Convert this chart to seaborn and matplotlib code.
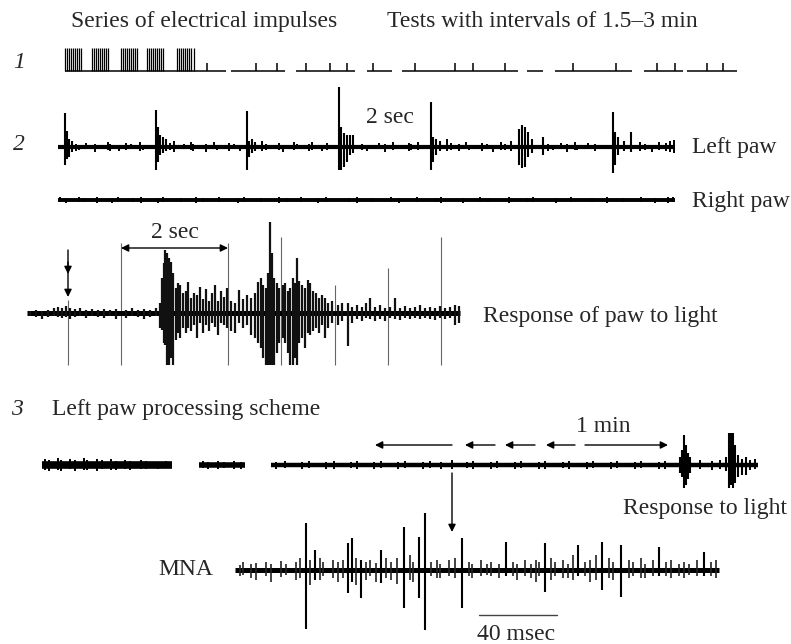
import matplotlib
matplotlib.use("Agg")
import matplotlib.pyplot as plt
import seaborn as sns
import pandas as pd

# ---------------- data ----------------
# row 1: stimulation protocol (segments of the marker line, pulse times)
stim_segments = [(65, 226), (231, 285), (296, 355), (367, 392), (402, 518),
                 (527, 543), (555, 632), (644, 683), (687, 737)]
burst_pulses = [65, 67, 69, 71, 73, 75, 77, 79, 81,
                92, 94, 96, 98, 100, 102, 104, 106, 108,
                121, 123, 125, 127, 129, 131, 133, 135, 137,
                147, 149, 151, 153, 155, 157, 159, 161, 163,
                177, 179, 181, 183, 185, 187, 189, 191, 194]
test_pulses = [207, 256, 277, 306, 330, 347, 373, 415, 455, 473, 505,
               573, 616, 657, 675, 707, 723]

# row 2: left paw record (x, amplitude up, amplitude down)
left_paw_spikes = [
    (65, 34, 18), (67, 16, 12), (69, 8, 10), (72, 6, 5),
    (156, 37, 23), (158, 20, 15), (160, 12, 8), (163, 10, 6), (166, 8, 4),
    (247, 36, 23), (249, 6, 10), (252, 8, 6), (255, 5, 4),
    (339, 60, 23), (341, 20, 23), (344, 14, 20), (347, 12, 15), (350, 12, 8), (353, 12, 6),
    (431, 45, 23), (433, 10, 15), (436, 8, 8), (440, 6, 4),
    (519, 18, 18), (522, 22, 21), (525, 20, 20), (528, 15, 10), (532, 8, 6), (543, 10, 8),
    (613, 35, 26), (615, 15, 18), (618, 10, 8), (624, 6, 4), (631, 15, 5)]
left_paw_ripple = [
    (76, 3, 4), (79, 2, 3), (86, 4, 2), (95, 3, 5), (99, 2, 2), (108, 5, 3), (110, 3, 4),
    (119, 2, 4), (126, 4, 3), (131, 3, 2), (140, 5, 4), (143, 2, 3), (170, 4, 3),
    (174, 6, 5), (184, 3, 2), (191, 5, 3), (193, 3, 4), (206, 3, 5), (214, 5, 2),
    (217, 2, 3), (229, 4, 4), (234, 3, 2), (240, 2, 4), (262, 6, 4), (266, 3, 3),
    (279, 4, 3), (283, 2, 5), (294, 5, 3), (297, 3, 2), (309, 3, 4), (312, 5, 3),
    (322, 2, 4), (327, 4, 3), (362, 3, 3), (367, 2, 4), (379, 4, 2), (385, 3, 5),
    (393, 5, 3), (396, 2, 2), (409, 4, 4), (411, 3, 3), (418, 5, 3), (447, 8, 4),
    (451, 4, 3), (459, 3, 4), (466, 5, 2), (469, 2, 3), (482, 4, 4), (487, 3, 2),
    (493, 2, 5), (501, 5, 3), (505, 3, 3), (511, 6, 4), (548, 3, 4), (553, 2, 3),
    (561, 4, 2), (567, 3, 5), (575, 5, 3), (577, 2, 3), (588, 4, 2), (595, 3, 4),
    (640, 5, 4), (645, 3, 3), (652, 2, 5), (659, 5, 3), (666, 4, 4), (670, 6, 5), (674, 7, 6)]
right_paw_ripple = [
    (60, 3, 2), (66, 2, 3), (79, 3, 2), (84, 2, 2), (97, 3, 3), (112, 2, 3),
    (118, 3, 2), (133, 2, 2), (141, 3, 3), (158, 2, 3), (163, 3, 2), (181, 2, 2),
    (196, 3, 3), (203, 2, 2), (219, 3, 2), (238, 2, 3), (244, 3, 2), (261, 2, 2),
    (279, 3, 3), (287, 2, 2), (301, 3, 2), (318, 2, 3), (326, 3, 2), (349, 2, 2),
    (357, 3, 3), (372, 2, 2), (391, 3, 2), (399, 2, 3), (417, 3, 2), (436, 2, 2),
    (441, 3, 3), (463, 2, 3), (480, 3, 2), (488, 2, 2), (509, 3, 3), (527, 2, 2),
    (533, 3, 2), (556, 2, 3), (571, 3, 2), (592, 2, 2), (607, 3, 3), (623, 2, 2),
    (641, 3, 2), (655, 2, 3), (668, 3, 3), (673, 3, 2)]

# row 2b: response of paw to light
light_marks = [68, 121, 228, 281, 335, 388, 441]
light_mark_tops = [300, 243, 243, 237, 285, 268, 237]
response_spikes = [
    (30, 2, 3), (36, 3, 4), (42, 2, 6), (48, 3, 4), (54, 5, 3), (58, 6, 4), (62, 5, 5),
    (66, 7, 4), (70, 5, 6), (75, 4, 4), (80, 5, 3), (86, 3, 5), (92, 4, 3), (98, 3, 4),
    (104, 4, 5), (110, 3, 3), (116, 4, 6), (126, 3, 5), (132, 5, 3), (138, 3, 4),
    (144, 4, 6), (150, 3, 4), (156, 5, 3),
    (160, 10, 15), (162, 35, 17), (164, 50, 30), (165, 63, 32), (167, 60, 52),
    (169, 55, 52), (171, 51, 45), (173, 40, 52), (176, 25, 27), (178, 30, 20),
    (180, 28, 25), (183, 20, 15), (186, 22, 20), (188, 31, 15), (191, 15, 18),
    (194, 20, 12), (197, 18, 25), (200, 26, 10), (203, 14, 20), (206, 24, 12),
    (209, 12, 18), (212, 20, 10), (215, 28, 14), (218, 12, 22), (221, 22, 10),
    (224, 16, 12), (227, 25, 15), (231, 12, 18), (235, 10, 20), (239, 23, 10),
    (243, 14, 15), (247, 18, 12), (251, 15, 22),
    (255, 20, 25), (258, 31, 30), (261, 35, 35), (263, 28, 45), (266, 25, 52),
    (268, 40, 52), (270, 91, 52), (272, 60, 52), (274, 35, 52), (277, 30, 40),
    (279, 25, 30), (283, 28, 25), (285, 30, 30), (288, 22, 40), (290, 25, 52),
    (293, 35, 52), (295, 30, 45), (297, 55, 52), (299, 32, 30), (302, 28, 25),
    (305, 25, 35), (308, 33, 20), (310, 30, 22), (313, 22, 18), (316, 20, 15),
    (319, 15, 20), (322, 18, 12), (325, 15, 25), (328, 10, 15), (332, 12, 10),
    (338, 8, 12), (342, 10, 8), (348, 10, 33), (352, 6, 10), (357, 8, 6),
    (362, 6, 8), (366, 10, 5), (370, 15, 6), (375, 6, 8), (380, 8, 6), (385, 5, 8),
    (390, 6, 5), (395, 15, 6), (400, 5, 7), (405, 7, 5), (410, 5, 6), (415, 6, 5),
    (420, 8, 6), (425, 5, 5), (430, 6, 6), (435, 5, 7), (440, 7, 5), (445, 5, 6),
    (450, 6, 5), (455, 8, 12), (459, 7, 10)]

# row 3: left paw processing scheme
scheme_segments = [(42, 172), (199, 245), (271, 758)]
scheme_ripple = [
    (45, 6, 5), (49, 5, 6), (58, 7, 5), (61, 5, 6), (70, 6, 4), (75, 5, 6),
    (84, 7, 5), (87, 5, 5), (97, 6, 6), (102, 5, 4), (111, 6, 5), (116, 4, 5),
    (125, 5, 4), (130, 4, 5), (141, 5, 4), (146, 4, 4), (158, 3, 4), (166, 4, 3),
    (203, 4, 3), (208, 3, 4), (218, 4, 4), (224, 3, 3), (234, 4, 4), (241, 3, 4),
    (276, 3, 4), (285, 4, 3), (302, 3, 4), (309, 4, 3), (326, 3, 4), (334, 4, 4),
    (351, 3, 3), (357, 4, 4), (374, 3, 4), (381, 4, 3), (398, 3, 4), (405, 4, 3),
    (423, 3, 4), (430, 4, 3), (441, 3, 4), (452, 5, 4), (467, 3, 3), (473, 4, 4),
    (491, 3, 4), (497, 4, 3), (515, 3, 4), (521, 4, 3), (539, 3, 4), (545, 4, 4),
    (563, 3, 3), (569, 4, 4), (587, 3, 4), (593, 4, 3), (611, 3, 4), (617, 4, 3),
    (635, 3, 4), (641, 4, 3), (659, 3, 4), (665, 4, 4), (700, 5, 4), (712, 4, 5),
    (720, 5, 4), (750, 5, 5), (755, 6, 4)]
scheme_spikes = [
    (680, 8, 8), (682, 15, 12), (684, 30, 23), (686, 20, 20), (688, 12, 14),
    (690, 8, 8), (726, 8, 6), (729, 32, 23), (731, 32, 20), (733, 32, 23),
    (735, 20, 18), (738, 10, 12), (742, 6, 10), (746, 8, 10)]

# MNA (multineuronal activity)
mna_spikes = [
    (306, 47, 59), (315, 20, 10), (348, 27, 23), (352, 32, 12), (361, 10, 28),
    (381, 20, 13), (404, 43, 38), (419, 33, 28), (425, 57, 60), (462, 32, 38),
    (506, 28, 6), (545, 27, 22), (578, 25, 6), (602, 28, 20), (621, 25, 27),
    (659, 23, 6), (704, 18, 6)]
mna_ripple = [
    (240, 5, 6), (243, 8, 5), (251, 6, 8), (256, 7, 10), (266, 8, 6), (271, 6, 12),
    (281, 9, 7), (286, 6, 5), (296, 8, 10), (300, 12, 8), (310, 10, 15), (320, 12, 10),
    (323, 8, 6), (333, 10, 8), (338, 8, 12), (343, 10, 8), (356, 12, 15), (366, 8, 10),
    (370, 10, 6), (376, 7, 12), (386, 12, 8), (391, 8, 10), (397, 12, 14), (410, 15, 10),
    (413, 8, 12), (431, 8, 6), (437, 10, 8), (440, 6, 8), (449, 10, 6), (455, 12, 8),
    (469, 8, 6), (472, 6, 8), (481, 10, 6), (487, 6, 5), (491, 8, 6), (499, 6, 8),
    (513, 8, 6), (517, 6, 10), (525, 10, 6), (531, 6, 8), (536, 10, 12), (539, 8, 6),
    (551, 12, 10), (555, 8, 6), (563, 10, 8), (568, 6, 8), (573, 15, 10), (585, 8, 6),
    (590, 10, 12), (596, 15, 10), (609, 12, 8), (613, 8, 10), (629, 10, 8), (633, 8, 6),
    (641, 12, 8), (645, 6, 8), (653, 10, 6), (666, 8, 6), (671, 10, 8), (679, 6, 6),
    (684, 8, 8), (689, 6, 5), (697, 10, 6), (711, 8, 6), (716, 10, 8)]

# ---------------- drawing ----------------
sns.set_theme(style="white")
plt.rcParams['font.family'] = ['Liberation Serif', 'DejaVu Serif']

fig = plt.figure(figsize=(7.91, 6.44), dpi=100)
ax = fig.add_axes([0, 0, 1, 1])


def baseline(segments, y, lw):
    rows = []
    for i, (a, b) in enumerate(segments):
        rows += [{'x': a, 'y': y, 'seg': i}, {'x': b, 'y': y, 'seg': i}]
    sns.lineplot(data=pd.DataFrame(rows), x='x', y='y', units='seg', estimator=None,
                 color='black', lw=lw, ax=ax, legend=False, solid_capstyle='butt')


def spikes(data, y, lw, color='black'):
    xs = [d[0] for d in data]
    ax.vlines(xs, [y - d[1] for d in data], [y + d[2] for d in data], color=color, lw=lw)


# row 1
baseline(stim_segments, 71, 1.1)
ax.vlines(burst_pulses, 48, 71, color='black', lw=0.9)
ax.vlines(test_pulses, 63, 71, color='black', lw=1.1)

# row 2
baseline([(58, 675)], 147, 3.0)
spikes(left_paw_ripple, 147, 1.4)
spikes(left_paw_spikes, 147, 1.5)
baseline([(58, 675)], 200, 2.8)
spikes(right_paw_ripple, 200, 1.4)

# row 2b
ax.vlines(light_marks, light_mark_tops, 365, color='#666666', lw=0.8)
baseline([(27, 460)], 313, 3.6)
spikes(response_spikes, 313, 1.6, color='#111111')

# row 3
baseline(scheme_segments[:1], 465, 5.5)
baseline(scheme_segments[1:2], 465, 4.0)
baseline(scheme_segments[2:], 465, 3.2)
spikes(scheme_ripple, 465, 1.4)
spikes(scheme_spikes, 465, 1.5)

baseline([(235, 719)], 570, 3.6)
spikes(mna_ripple, 570, 1.2, color='#222222')
spikes(mna_spikes, 570, 1.5)

# arrows
arrow = dict(color='black', lw=1.0, shrinkA=0, shrinkB=0, mutation_scale=11)
ax.annotate('', xy=(68, 297), xytext=(68, 250), arrowprops=dict(arrowstyle='-|>', **arrow))
ax.annotate('', xy=(68, 274), xytext=(68, 262), arrowprops=dict(arrowstyle='-|>', **arrow))
ax.annotate('', xy=(121, 248), xytext=(228, 248), arrowprops=dict(arrowstyle='<|-|>', **arrow))
for tail, head in [(452, 375), (495, 465), (535, 505), (575, 546), (585, 668)]:
    ax.annotate('', xy=(head, 445), xytext=(tail, 445), arrowprops=dict(arrowstyle='-|>', **arrow))
ax.annotate('', xy=(452, 532), xytext=(452, 473), arrowprops=dict(arrowstyle='-|>', **arrow))
ax.plot([479, 557], [615, 615], color='#444444', lw=1.0)

# text
fs = 17
ax.text(71, 27, 'Series of electrical impulses', fontsize=fs)
ax.text(387, 27, 'Tests with intervals of 1.5\u20133 min', fontsize=fs)
ax.text(13, 68, '1', fontsize=fs, style='italic')
ax.text(13, 150, '2', fontsize=fs, style='italic')
ax.text(11, 415, '3', fontsize=fs, style='italic')
ax.text(366, 123, '2 sec', fontsize=fs)
ax.text(692, 153, 'Left paw', fontsize=fs)
ax.text(692, 207, 'Right paw', fontsize=fs)
ax.text(175, 238, '2 sec', fontsize=fs, ha='center')
ax.text(483, 322, 'Response of paw to light', fontsize=fs)
ax.text(52, 415, 'Left paw processing scheme', fontsize=fs)
ax.text(603, 432, '1 min', fontsize=fs, ha='center')
ax.text(623, 514, 'Response to light', fontsize=fs)
ax.text(158, 575, 'MNA', fontsize=fs)
ax.text(516, 640, '40 msec', fontsize=fs, ha='center')

ax.set_xlim(0, 791)
ax.set_ylim(644, 0)
ax.axis('off')
fig.savefig('out.png', dpi=100, facecolor='white')
